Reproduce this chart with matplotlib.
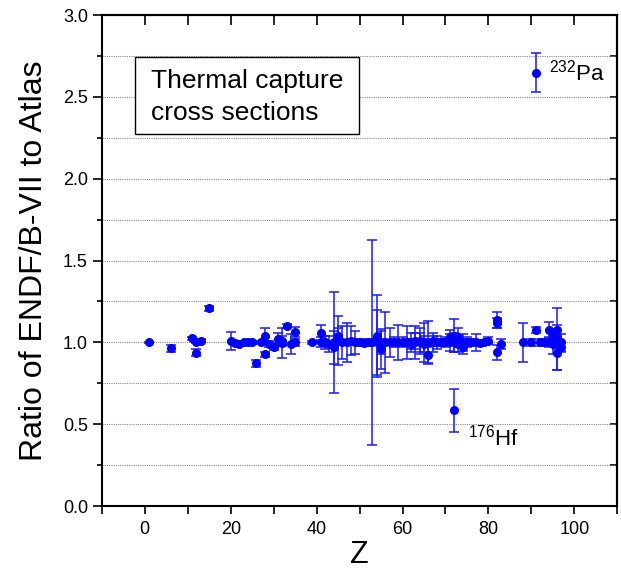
import matplotlib
matplotlib.use("Agg")
import matplotlib.pyplot as plt
from matplotlib.patches import Rectangle
from matplotlib.ticker import MultipleLocator

plt.rcParams['font.family'] = ['Liberation Sans', 'DejaVu Sans']
plt.rcParams['mathtext.fontset'] = 'custom'
plt.rcParams['mathtext.rm'] = 'Liberation Sans'
plt.rcParams['mathtext.it'] = 'Liberation Sans:italic'

# Data: atomic number Z, ratio ENDF/B-VII / Atlas, uncertainty
Z = [1, 6, 11, 12, 12, 13, 15, 20, 21, 22, 23, 24, 25, 26, 27, 28, 28, 29, 30, 31,
     32, 32, 33, 34, 35, 35, 39, 41, 41, 42, 43, 44, 44, 45, 45, 46, 47, 48, 49, 50,
     51, 52, 53, 54, 54, 55, 55, 56, 57, 58, 59, 60, 61, 62, 62, 63, 63, 64, 64, 65,
     65, 66, 66, 67, 67, 68, 69, 70, 71, 71, 72, 72, 72, 73, 73, 74, 74, 75, 76, 77,
     78, 79, 80, 82, 82, 82, 83, 88, 90, 91, 91, 92, 93, 94, 94, 95, 95, 95, 96, 96,
     96, 96, 97, 97]
ratio = [1.00, 0.963, 1.024, 1.005, 0.937, 1.01, 1.208, 1.008, 0.995, 0.99, 1.0, 1.005, 1.0, 0.872, 1.0, 1.04, 0.927, 0.99, 0.973, 1.02,
         0.995, 1.01, 1.10, 0.99, 1.065, 1.0, 1.0, 1.059, 1.0, 1.0, 0.99, 1.0, 0.97, 1.01, 1.04, 1.0, 1.0, 1.01, 1.0, 1.0,
         0.995, 1.0, 1.0, 1.04, 1.0, 0.96, 1.0, 1.0, 1.0, 1.0, 1.0, 1.0, 1.0, 1.0, 0.99, 1.0, 1.01, 1.0, 1.01, 1.0,
         0.99, 1.0, 0.922, 1.0, 1.01, 1.0, 1.0, 1.0, 1.035, 1.0, 0.585, 1.04, 1.0, 0.99, 1.03, 0.97, 1.0, 1.0, 1.0, 1.0,
         0.995, 1.0, 1.01, 1.136, 1.12, 0.939, 0.99, 1.0, 1.0, 2.647, 1.075, 1.0, 1.0, 1.075, 1.0, 1.02, 0.99, 1.05, 1.02, 0.933,
         1.075, 1.0, 1.0, 0.97]
err = [0.005, 0.02, 0.01, 0.01, 0.02, 0.01, 0.015, 0.057, 0.01, 0.01, 0.01, 0.01, 0.01, 0.02, 0.01, 0.05, 0.015, 0.02, 0.02, 0.04,
       0.09, 0.03, 0.015, 0.06, 0.03, 0.02, 0.01, 0.045, 0.03, 0.04, 0.05, 0.31, 0.10, 0.15, 0.05, 0.10, 0.12, 0.09, 0.07, 0.02,
       0.02, 0.02, 0.625, 0.25, 0.20, 0.12, 0.07, 0.185, 0.09, 0.03, 0.105, 0.03, 0.10, 0.06, 0.03, 0.10, 0.05, 0.06, 0.08, 0.12,
       0.05, 0.13, 0.05, 0.06, 0.03, 0.04, 0.02, 0.03, 0.04, 0.05, 0.13, 0.10, 0.06, 0.05, 0.06, 0.04, 0.05, 0.03, 0.02, 0.05,
       0.02, 0.01, 0.02, 0.05, 0.03, 0.045, 0.03, 0.117, 0.02, 0.12, 0.02, 0.02, 0.01, 0.05, 0.03, 0.04, 0.06, 0.03, 0.19, 0.10,
       0.03, 0.04, 0.05, 0.03]

fig = plt.figure(figsize=(6.21, 5.77), dpi=100)
ax = fig.add_axes([0.164, 0.123, 0.830, 0.851])

ax.errorbar(Z, ratio, yerr=err, fmt='o', color='#0000ff', ecolor='#1a1aff',
            markersize=5.5, elinewidth=1.1, capsize=3.8, capthick=1.1, zorder=3)

ax.set_xlim(-10, 110)
ax.set_ylim(0, 3.0)
ax.xaxis.set_major_locator(MultipleLocator(20))
ax.xaxis.set_minor_locator(MultipleLocator(10))
ax.yaxis.set_major_locator(MultipleLocator(0.5))
ax.yaxis.set_minor_locator(MultipleLocator(0.25))
ax.yaxis.set_major_formatter(matplotlib.ticker.FormatStrFormatter('%.1f'))

ax.grid(True, axis='y', which='both', linestyle=(0, (1, 1)), color='#888888', linewidth=0.8, zorder=0)
ax.set_axisbelow(True)

for s in ax.spines.values():
    s.set_linewidth(1.5)

ax.tick_params(axis='x', which='both', direction='out', length=5.5, width=1.2, labelsize=13, pad=5)
ax.tick_params(axis='y', which='major', direction='out', length=6.5, width=1.2, labelsize=13)
ax.tick_params(axis='y', which='minor', direction='out', length=3.6, width=1.2)

top = ax.secondary_xaxis('top')
top.xaxis.set_major_locator(MultipleLocator(10))
top.tick_params(direction='in', length=7, width=1.2, labeltop=False)
top.spines['top'].set_linewidth(1.5)
right = ax.secondary_yaxis('right')
right.yaxis.set_major_locator(MultipleLocator(0.25))
right.tick_params(direction='in', length=5, width=1.2, labelright=False)
right.spines['right'].set_linewidth(1.5)

ax.set_xlabel('Z', fontsize=22, labelpad=2)
ax.set_ylabel('Ratio of ENDF/B-VII to Atlas', fontsize=23, labelpad=10)

rect = Rectangle((-2.3, 2.27), 52.1, 0.475, facecolor='white', edgecolor='black',
                 linewidth=1.0, zorder=4)
ax.add_patch(rect)
ax.text(1.4, 2.50, 'Thermal capture\ncross sections', fontsize=19, va='center', ha='left',
        linespacing=1.4, zorder=5)

ax.text(94.2, 2.60, r'$^{\mathrm{232}}$Pa', fontsize=16, ha='left', va='baseline', zorder=5)
ax.text(75.3, 0.367, r'$^{\mathrm{176}}$Hf', fontsize=16, ha='left', va='baseline', zorder=5)

fig.savefig('out.png', dpi=100)
